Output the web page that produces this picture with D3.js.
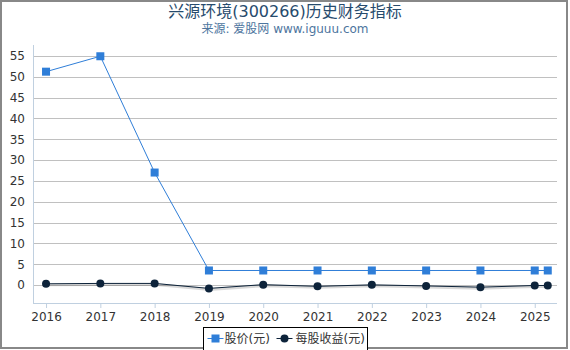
<!DOCTYPE html>
<html><head><meta charset="utf-8">
<script src="https://cdn.jsdelivr.net/npm/d3@7"></script>
<style>
body{margin:0;background:#fff;}
text{font-family:"DejaVu Sans","Noto Sans CJK SC",sans-serif;}
</style></head>
<body><div id="chart"></div>
<script>
var years = [2016, 2017, 2018, 2019, 2020, 2021, 2022, 2023, 2024, 2025, 2025.24];
var price = [51.2, 54.9, 27.0, 3.5, 3.5, 3.5, 3.5, 3.5, 3.5, 3.5, 3.5];
var eps = [0.3, 0.4, 0.4, -0.8, 0.1, -0.3, 0.05, -0.2, -0.5, -0.1, -0.1];
var yTicks = [0, 5, 10, 15, 20, 25, 30, 35, 40, 45, 50, 55];
var xTicks = [2016, 2017, 2018, 2019, 2020, 2021, 2022, 2023, 2024, 2025];

var W = 570, H = 350;
var margin = {top: 45, right: 13, bottom: 47, left: 33},
    width = W - margin.left - margin.right,
    height = H - margin.top - margin.bottom;

var svg = d3.select("#chart").append("svg").attr("width", W).attr("height", H);

svg.append("rect").attr("x", 1).attr("y", 1).attr("width", W - 4).attr("height", H - 3)
    .attr("fill", "#fff").attr("stroke", "#888").attr("stroke-width", 2);

svg.append("text").attr("x", W / 2).attr("y", 17).attr("text-anchor", "middle")
    .style("font-size", "16px").attr("fill", "#274b6d").text("兴源环境(300266)历史财务指标");
svg.append("text").attr("x", W / 2).attr("y", 33).attr("text-anchor", "middle")
    .style("font-size", "12px").attr("fill", "#4d759e").text("来源: 爱股网 www.iguuu.com");

var g = svg.append("g").attr("transform", "translate(" + margin.left + "," + margin.top + ")");

var x = d3.scaleLinear().domain([2015.76, 2025.41]).range([0, width]);
var y = d3.scaleLinear().domain([-4.3, 57.6]).range([height, 0]);

// grid
g.selectAll("line.grid").data(yTicks).enter().append("line")
    .attr("x1", 0).attr("x2", width)
    .attr("y1", function(d) { return Math.round(y(d)) + 0.5; })
    .attr("y2", function(d) { return Math.round(y(d)) + 0.5; })
    .attr("stroke", "#c0c0c0");

var yAxis = d3.axisLeft(y).tickValues(yTicks).tickSize(0).tickPadding(8);
g.append("g").call(yAxis).call(function(a) {
    a.select(".domain").attr("stroke", "#c0d0e0").attr("d", "M0.5," + height + "V0");
    a.selectAll("text").style("font-size", "12px").attr("fill", "#333");
});

var xAxis = d3.axisBottom(x).tickValues(xTicks).tickFormat(d3.format("d")).tickSize(5).tickPadding(4);
g.append("g").attr("transform", "translate(0," + height + ")").call(xAxis).call(function(a) {
    a.select(".domain").attr("stroke", "#c0d0e0").attr("d", "M0,0.5H" + width);
    a.selectAll("line").attr("stroke", "#c0d0e0");
    a.selectAll("text").style("font-size", "12px").attr("fill", "#333");
});

var priceData = years.map(function(d, i) { return [d, price[i]]; });
var epsData = years.map(function(d, i) { return [d, eps[i]]; });
var line = d3.line().x(function(d) { return x(d[0]); }).y(function(d) { return y(d[1]); });

// shadow lines
g.append("path").datum(epsData).attr("d", line).attr("fill", "none")
    .attr("stroke", "#000").attr("stroke-opacity", 0.15).attr("stroke-width", 3)
    .attr("transform", "translate(1,1)");

g.append("path").datum(priceData).attr("d", line).attr("fill", "none")
    .attr("stroke", "#2f7ed8").attr("stroke-width", 1);
g.selectAll("rect.p").data(priceData).enter().append("rect")
    .attr("x", function(d) { return x(d[0]) - 4; }).attr("y", function(d) { return y(d[1]) - 4; })
    .attr("width", 8).attr("height", 8).attr("fill", "#2f7ed8");

g.append("path").datum(epsData).attr("d", line).attr("fill", "none")
    .attr("stroke", "#0d233a").attr("stroke-width", 1);
g.selectAll("circle.e").data(epsData).enter().append("circle")
    .attr("cx", function(d) { return x(d[0]); }).attr("cy", function(d) { return y(d[1]); })
    .attr("r", 4).attr("fill", "#0d233a");

// legend
var lg = svg.append("g").attr("transform", "translate(203.5,327.5)");
lg.append("rect").attr("width", 164).attr("height", 24).attr("fill", "#fff").attr("stroke", "#000");
lg.append("line").attr("x1", 4).attr("x2", 20).attr("y1", 11).attr("y2", 11).attr("stroke", "#2f7ed8");
lg.append("rect").attr("x", 8).attr("y", 7).attr("width", 8).attr("height", 8).attr("fill", "#2f7ed8");
lg.append("text").attr("x", 21).attr("y", 15.5).style("font-size", "12px").attr("fill", "#333").text("股价(元)");
lg.append("line").attr("x1", 73).attr("x2", 89).attr("y1", 11).attr("y2", 11).attr("stroke", "#0d233a");
lg.append("circle").attr("cx", 81).attr("cy", 11).attr("r", 4).attr("fill", "#0d233a");
lg.append("text").attr("x", 92).attr("y", 15.5).style("font-size", "12px").attr("fill", "#333").text("每股收益(元)");
</script>
</body></html>
